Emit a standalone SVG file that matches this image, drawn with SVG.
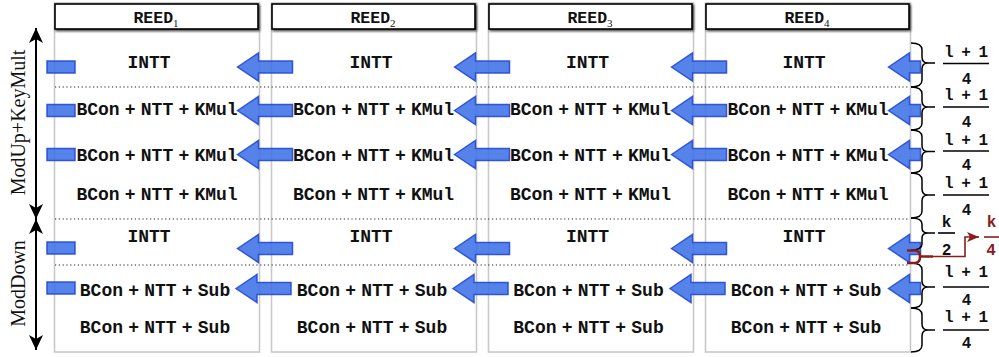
<svg xmlns="http://www.w3.org/2000/svg" width="999" height="357" viewBox="0 0 999 357">
<style>
.panel{fill:#fff;stroke:#c9c9c9;stroke-width:1.6}
.hdr{fill:#fff;stroke:#000;stroke-width:1.6}
.tt{font-family:"Liberation Mono","DejaVu Sans Mono",monospace;font-weight:bold;font-size:18px;text-anchor:middle;fill:#111;word-spacing:-5.6px}
.ht{font-family:"Liberation Mono","DejaVu Sans Mono",monospace;font-weight:bold;font-size:16.5px;text-anchor:middle;fill:#111}
.sub{font-family:"Liberation Serif","Times New Roman",serif;font-weight:normal;font-size:11px}
.fr{font-family:"Liberation Mono","DejaVu Sans Mono",monospace;font-weight:bold;font-size:16px;text-anchor:middle;fill:#111;word-spacing:-2px}
.lab{font-family:"Liberation Serif","Times New Roman",serif;font-size:20px;text-anchor:middle;fill:#111}
.dot{stroke:#222;stroke-width:1.2;stroke-dasharray:1.2 2.6;fill:none}
.blk{fill:#3f72e6;fill-opacity:0.88;stroke:#2348d6;stroke-width:1.5;stroke-opacity:0.9}
.brace{fill:none;stroke:#000;stroke-width:1.5}
.bar{stroke:#000;stroke-width:1.6}
.red{fill:none;stroke:#8b1c1c}
.rtxt{fill:#8b1c1c}
.axis{stroke:#000;stroke-width:2;fill:none;marker-start:url(#ah);marker-end:url(#ah)}
</style>
<defs>
<filter id="sh" x="-10%" y="-40%" width="125%" height="190%">
<feDropShadow dx="1.2" dy="1.5" stdDeviation="1.3" flood-color="#000" flood-opacity="0.75"/>
</filter>
<marker id="ah" viewBox="0 0 15 14" refX="15" refY="7" markerWidth="15" markerHeight="14" markerUnits="userSpaceOnUse" orient="auto-start-reverse">
<path d="M0,0 L15,7 L0,14 L4,7 Z" fill="#000"/>
</marker>
<marker id="rah" viewBox="0 0 12 10" refX="12" refY="5" markerWidth="12" markerHeight="10" markerUnits="userSpaceOnUse" orient="auto">
<path d="M0,0 L12,5 L0,10 L3,5 Z" fill="#8b1c1c"/>
</marker>
<path id="ar" d="M0,0 L21,-14 L21,-6 L55,-6 L55,6 L21,6 L21,14 Z"/>
<path id="ars" d="M0,0 L21,-14 L21,-6 L32,-6 L32,6 L21,6 L21,14 Z"/>
</defs>

<!-- columns / nodes -->
<g id="reed1">
<rect class="panel" x="54.5" y="3" width="205" height="349"/>
<text class="tt" x="149" y="68">INTT</text>
<text class="tt" x="157" y="115">BCon + NTT + KMul</text>
<text class="tt" x="157" y="161">BCon + NTT + KMul</text>
<text class="tt" x="157" y="200">BCon + NTT + KMul</text>
<text class="tt" x="149" y="241.5">INTT</text>
<text class="tt" x="155" y="296">BCon + NTT + Sub</text>
<text class="tt" x="155" y="333">BCon + NTT + Sub</text>
</g>
<g id="reed2">
<rect class="panel" x="271.5" y="3" width="205" height="349"/>
<text class="tt" x="371" y="68">INTT</text>
<text class="tt" x="373.5" y="115">BCon + NTT + KMul</text>
<text class="tt" x="373.5" y="161">BCon + NTT + KMul</text>
<text class="tt" x="373.5" y="200">BCon + NTT + KMul</text>
<text class="tt" x="371" y="241.5">INTT</text>
<text class="tt" x="372" y="296">BCon + NTT + Sub</text>
<text class="tt" x="372" y="333">BCon + NTT + Sub</text>
</g>
<g id="reed3">
<rect class="panel" x="488.5" y="3" width="205" height="349"/>
<text class="tt" x="587.5" y="68">INTT</text>
<text class="tt" x="590.5" y="115">BCon + NTT + KMul</text>
<text class="tt" x="590.5" y="161">BCon + NTT + KMul</text>
<text class="tt" x="590.5" y="200">BCon + NTT + KMul</text>
<text class="tt" x="587.5" y="241.5">INTT</text>
<text class="tt" x="588.5" y="296">BCon + NTT + Sub</text>
<text class="tt" x="588.5" y="333">BCon + NTT + Sub</text>
</g>
<g id="reed4">
<rect class="panel" x="705.5" y="3" width="205" height="349"/>
<text class="tt" x="804" y="68">INTT</text>
<text class="tt" x="808" y="115">BCon + NTT + KMul</text>
<text class="tt" x="808" y="161">BCon + NTT + KMul</text>
<text class="tt" x="808" y="200">BCon + NTT + KMul</text>
<text class="tt" x="804" y="241.5">INTT</text>
<text class="tt" x="806" y="296">BCon + NTT + Sub</text>
<text class="tt" x="806" y="333">BCon + NTT + Sub</text>
</g>

<!-- row separators -->
<g id="separators">
<line class="dot" x1="55" y1="87" x2="910" y2="87"/>
<line class="dot" x1="55" y1="219" x2="910" y2="219"/>
<line class="dot" x1="55" y1="265" x2="910" y2="265"/>
</g>

<!-- connectors -->
<g id="connectors">
<rect class="blk" x="47" y="61" width="28" height="12"/>
<rect class="blk" x="47" y="104.5" width="28" height="12"/>
<rect class="blk" x="47" y="148.5" width="28" height="12"/>
<rect class="blk" x="47" y="242" width="28" height="12"/>
<rect class="blk" x="47" y="282" width="28" height="12"/>

<use href="#ar" class="blk" x="237.5" y="67"/>
<use href="#ar" class="blk" x="454.5" y="67"/>
<use href="#ar" class="blk" x="671.5" y="67"/>
<use href="#ars" class="blk" x="888.5" y="67"/>

<use href="#ar" class="blk" x="237.5" y="110.5"/>
<use href="#ar" class="blk" x="454.5" y="110.5"/>
<use href="#ar" class="blk" x="671.5" y="110.5"/>
<use href="#ars" class="blk" x="888.5" y="110.5"/>

<use href="#ar" class="blk" x="237.5" y="154.5"/>
<use href="#ar" class="blk" x="454.5" y="154.5"/>
<use href="#ar" class="blk" x="671.5" y="154.5"/>
<use href="#ars" class="blk" x="888.5" y="154.5"/>

<use href="#ar" class="blk" x="237.5" y="248.5"/>
<use href="#ar" class="blk" x="454.5" y="248.5"/>
<use href="#ar" class="blk" x="671.5" y="248.5"/>
<use href="#ars" class="blk" x="888.5" y="248.5"/>

<use href="#ar" class="blk" x="236" y="288.5"/>
<use href="#ar" class="blk" x="453" y="288.5"/>
<use href="#ar" class="blk" x="670" y="288.5"/>
<use href="#ars" class="blk" x="888.5" y="288.5"/>
</g>

<!-- headers -->
<g id="headers">
<g id="hdr1"><rect class="hdr" x="55" y="4" width="203" height="25" filter="url(#sh)"/><text class="ht" x="156" y="23">REED<tspan class="sub" dy="3.5">1</tspan></text></g>
<g id="hdr2"><rect class="hdr" x="272" y="4" width="203" height="25" filter="url(#sh)"/><text class="ht" x="373" y="23">REED<tspan class="sub" dy="3.5">2</tspan></text></g>
<g id="hdr3"><rect class="hdr" x="489" y="4" width="203" height="25" filter="url(#sh)"/><text class="ht" x="590" y="23">REED<tspan class="sub" dy="3.5">3</tspan></text></g>
<g id="hdr4"><rect class="hdr" x="706" y="4" width="203" height="25" filter="url(#sh)"/><text class="ht" x="807" y="23">REED<tspan class="sub" dy="3.5">4</tspan></text></g>
</g>

<!-- left axis -->
<g id="axis">
<line class="axis" x1="36" y1="28" x2="36" y2="219"/>
<line class="axis" x1="36" y1="219" x2="36" y2="350"/>
<text class="lab" transform="translate(25,122.5) rotate(-90)">ModUp+KeyMult</text>
<text class="lab" transform="translate(25,283.5) rotate(-90)">ModDown</text>
</g>

<!-- right braces and fractions -->
<g id="braces">
<path class="brace" d="M911,43 Q922,43 922,50 L922,57 Q922,63 928,63 L935,63 M928,63 Q922,63 922,69 L922,80 Q922,87 911,87"/>
<path class="brace" d="M911,87 Q922,87 922,94 L922,101 Q922,107 928,107 L935,107 M928,107 Q922,107 922,113 L922,123 Q922,130 911,130"/>
<path class="brace" d="M911,130 Q922,130 922,137 L922,145.5 Q922,151.5 928,151.5 L935,151.5 M928,151.5 Q922,151.5 922,157.5 L922,166 Q922,173 911,173"/>
<path class="brace" d="M911,173 Q922,173 922,180 L922,189 Q922,195 928,195 L935,195 M928,195 Q922,195 922,201 L922,211 Q922,218 911,218"/>
<path class="brace" d="M911,218 Q922,218 922,224 L922,228 Q922,233 928,233 L935,233 M928,233 Q922,233 922,238 L922,244 Q922,250 911,250"/>
<path class="brace" d="M911,263 Q922,263 922,270 L922,281 Q922,287 928,287 L935,287 M928,287 Q922,287 922,293 L922,301 Q922,308 911,308"/>
<path class="brace" d="M911,308 Q922,308 922,315 L922,324 Q922,330 928,330 L935,330 M928,330 Q922,330 922,336 L922,345 Q922,352 911,352"/>

<text class="fr" x="966" y="57">l + 1</text>
<line class="bar" x1="943" y1="63.5" x2="989" y2="63.5"/>
<text class="fr" x="966.5" y="83.5">4</text>

<text class="fr" x="966" y="100">l + 1</text>
<line class="bar" x1="943" y1="107" x2="989" y2="107"/>
<text class="fr" x="966.5" y="127">4</text>

<text class="fr" x="966" y="145">l + 1</text>
<line class="bar" x1="943" y1="151" x2="989" y2="151"/>
<text class="fr" x="966.5" y="170">4</text>

<text class="fr" x="966" y="188">l + 1</text>
<line class="bar" x1="943" y1="195" x2="989" y2="195"/>
<text class="fr" x="966.5" y="215">4</text>

<text class="fr" x="946.5" y="227">k</text>
<line class="bar" x1="938" y1="233" x2="955" y2="233"/>
<text class="fr" x="946.5" y="255">2</text>

<text class="fr" x="966" y="277">l + 1</text>
<line class="bar" x1="943" y1="287" x2="989" y2="287"/>
<text class="fr" x="966.5" y="305">4</text>

<text class="fr" x="966" y="322">l + 1</text>
<line class="bar" x1="943" y1="330" x2="989" y2="330"/>
<text class="fr" x="966.5" y="348">4</text>

<path class="red" stroke-width="2.6" d="M907,250.5 L915,250.5 Q920,250.5 920,256.5 Q920,263 915,263 L907,263 M920,256.5 L933,256.5"/>
<path class="red" stroke-width="1.6" d="M933,256.5 L965,256.5 L965,237 L979,237" marker-end="url(#rah)"/>
<text class="fr rtxt" x="991.5" y="227">k</text>
<line x1="984" y1="237" x2="1000" y2="237" stroke="#8b1c1c" stroke-width="1.6"/>
<text class="fr rtxt" x="991" y="255">4</text>
</g>
</svg>
